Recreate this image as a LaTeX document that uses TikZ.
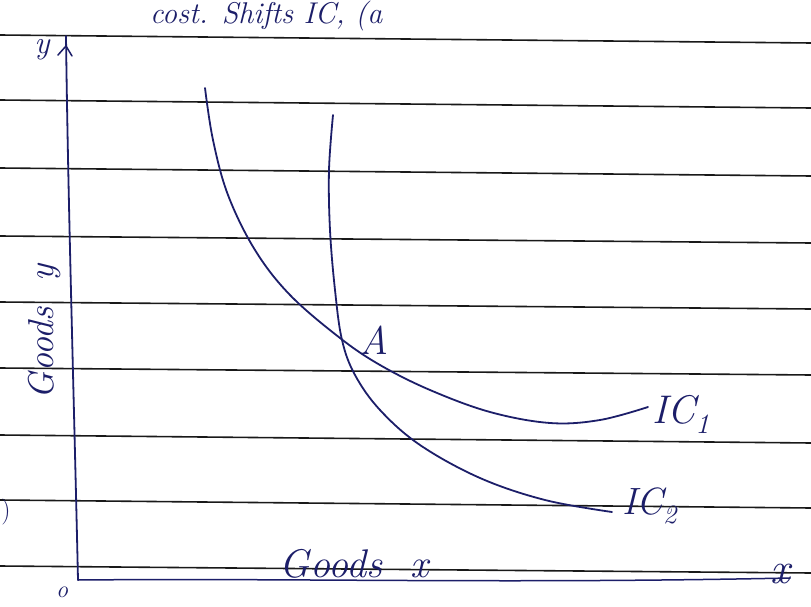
\documentclass[tikz,border=0pt]{standalone}
\usepackage{tikz}
\begin{document}
\begin{tikzpicture}[x=1pt,y=-1pt,
  ink/.style={draw=inkc,line width=1.8pt,line cap=round,line join=round},
  rule/.style={draw=black!90,line width=1.6pt},
  lbl/.style={text=inkc,font=\itshape,inner sep=0pt}]
\definecolor{inkc}{RGB}{28,30,105}
\useasboundingbox (0,0) rectangle (811,607);
\fill[white] (0,0) rectangle (811,607);
% top partial handwriting
\node[lbl,font=\itshape\fontsize{30}{30}\selectfont,anchor=base west] (top) at (150,24) {cost. Shifts IC, (a};
% ruled lines
\foreach \l/\r in {35/43,100/108,168/176,236/243,302/309,368/375,435/443,500/508,566/573}
  \draw[rule] (0,\l) -- (811,\r);
% axes
\coordinate (O) at (78,580);
\coordinate (Ytop) at (66,36);
\coordinate (Xend) at (790,578);
\draw[ink] (O) .. controls (74,400) and (68,200) .. (Ytop);
\draw[ink,line width=1.5pt] (O) .. controls (300,578) and (500,584) .. (Xend);
% y arrow mark
\draw[ink,line width=1.5pt] (58,55) -- (66,46) -- (72,56);
\node[lbl,font=\itshape\fontsize{32}{32}\selectfont] (ylab) at (42,50) {y};
% axis labels
\node[lbl,rotate=90,font=\itshape\fontsize{36}{36}\selectfont] (gy) at (44,332) {Goods\ \ y};
\node[lbl,font=\itshape\fontsize{40}{40}\selectfont] (gx) at (354,564) {Goods\ \ x};
\node[lbl,font=\itshape\fontsize{44}{44}\selectfont] (xlab) at (780,574) {x};
\node[lbl,font=\itshape\fontsize{24}{24}\selectfont] (olab) at (62,592) {o};
\node[lbl,font=\fontsize{26}{26}\selectfont] (paren) at (6,512) {)};
% indifference curves
\draw[ink] plot[smooth,tension=0.6] coordinates {(205,88) (213,140) (228,195) (255,250) (290,295) (340,338) (380,365) (430,390) (490,412) (550,423) (600,420) (648,407)};
\draw[ink] plot[smooth,tension=0.6] coordinates {(333,115) (329,170) (330,230) (335,290) (342,340) (355,375) (380,410) (420,445) (480,478) (545,500) (612,512)};
\node[lbl,font=\itshape\fontsize{40}{40}\selectfont] (A) at (374,340) {A};
\node[lbl,font=\itshape\fontsize{40}{40}\selectfont,anchor=west] (ic1) at (652,414) {IC\textsubscript{1}};
\node[lbl,font=\itshape\fontsize{38}{38}\selectfont,anchor=west] (ic2) at (622,506) {IC\textsubscript{2}};
\end{tikzpicture}
\end{document}
